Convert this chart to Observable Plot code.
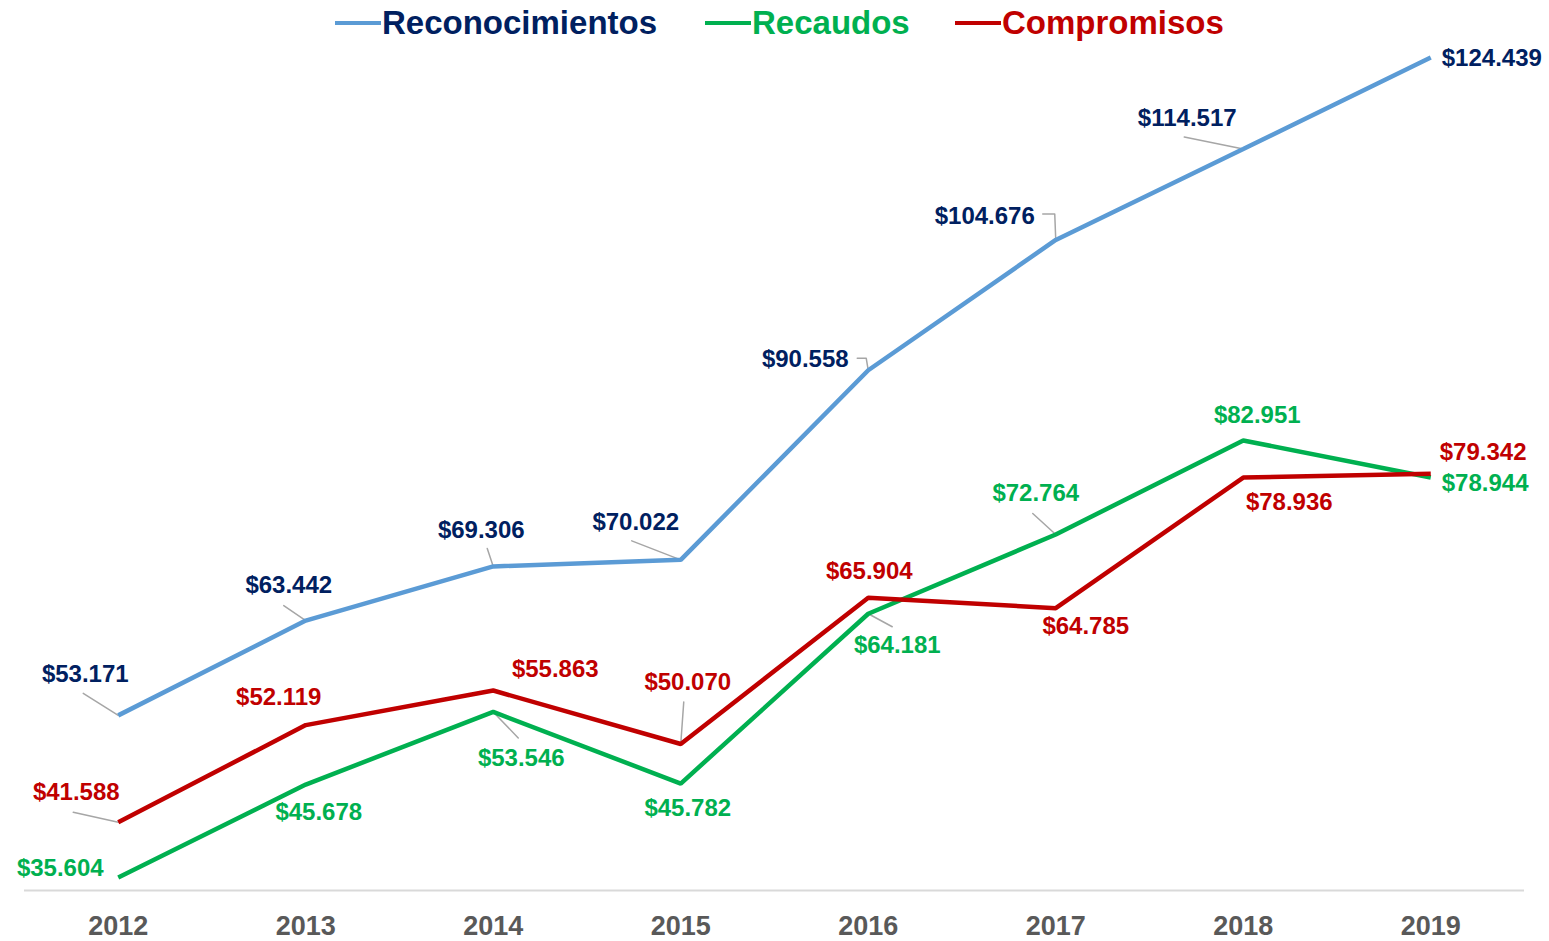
<!DOCTYPE html>
<html>
<head>
<meta charset="utf-8">
<script src="https://cdn.jsdelivr.net/npm/d3@7"></script>
<script src="https://cdn.jsdelivr.net/npm/@observablehq/plot@0.6"></script>
<style>
  html, body { margin: 0; padding: 0; background: #fff; }
  body { width: 1549px; height: 941px; overflow: hidden; font-family: "Liberation Sans", Arial, sans-serif; }
  #legend { height: 46px; position: relative; }
  .item { position: absolute; top: 0; height: 46px; display: flex; align-items: center; font-weight: bold; font-size: 33px; }
  .sw { display: inline-block; width: 46px; height: 4px; margin-right: 1px; }
</style>
</head>
<body>
<div id="legend"></div>
<div id="chart"></div>
<script>
// ---- data ----
const years = [2012, 2013, 2014, 2015, 2016, 2017, 2018, 2019];
const reconocimientos = [53.171, 63.442, 69.306, 70.022, 90.558, 104.676, 114.517, 124.439];
const recaudos = [35.604, 45.678, 53.546, 45.782, 64.181, 72.764, 82.951, 78.944];
const compromisos = [41.588, 52.119, 55.863, 50.070, 65.904, 64.785, 78.936, 79.342];
const seriesNames = ["Reconocimientos", "Recaudos", "Compromisos"];

// ---- styling / placement (not data) ----
const lineColors = {Reconocimientos: "#5B9BD5", Recaudos: "#00B050", Compromisos: "#C00000"};
const textColors = {Reconocimientos: "#002060", Recaudos: "#00B050", Compromisos: "#C00000"};
const legendLeft = {Reconocimientos: 335, Recaudos: 705, Compromisos: 955};
// label offsets in pixels relative to the point [dx, dy, anchor]
const labelOffsets = {
  Reconocimientos: [[-33,-41],[-17,-35],[-12,-36],[-45,-38],[-63,-11],[-71,-24],[-56,-31],[11,1,"start"]],
  Recaudos: [[-58,-9],[13,28],[28,46],[7,25],[29,32],[-20,-41],[14,-25],[11,6,"start"]],
  Compromisos: [[-42,-30],[-27,-28],[62,-21],[7,-62],[1,-27],[30,18],[46,25],[9,-21,"start"]]
};
// leader lines: [series, yearIndex, list of pixel offsets ending at the point]
const leaders = [
  ["Reconocimientos", 0, [[-35,-22],[0,0]]],
  ["Reconocimientos", 1, [[-22,-15],[0,0]]],
  ["Reconocimientos", 2, [[-6,-18],[0,0]]],
  ["Reconocimientos", 3, [[-49,-19],[0,0]]],
  ["Reconocimientos", 4, [[-11,-12],[-2,-12],[0,0]]],
  ["Reconocimientos", 5, [[-13,-26],[-1,-26],[0,0]]],
  ["Reconocimientos", 6, [[-59,-12],[0,0]]],
  ["Compromisos", 0, [[-45,-10],[0,0]]],
  ["Compromisos", 3, [[3,-42],[0,0]]],
  ["Recaudos", 2, [[25,26],[0,0]]],
  ["Recaudos", 4, [[24,13],[0,0]]],
  ["Recaudos", 5, [[-23,-21],[0,0]]]
];

const values = {Reconocimientos: reconocimientos, Recaudos: recaudos, Compromisos: compromisos};
const rows = seriesNames.flatMap(s => years.map((yr, i) => ({series: s, year: yr, value: values[s][i], i})));

// legend
const legend = document.getElementById("legend");
for (const s of seriesNames) {
  const el = document.createElement("div");
  el.className = "item";
  el.style.left = legendLeft[s] + "px";
  el.style.color = textColors[s];
  el.innerHTML = `<span class="sw" style="background:${lineColors[s]}"></span>${s}`;
  legend.appendChild(el);
}

const W = 1549, H = 895, mL = 24, mR = 25, mT = 11, mB = 51;
const yMin = 34.2, yMax = 124.439;
const pxPerYear = (W - mL - mR) / 8;
const pxPerUnit = (H - mT - mB) / (yMax - yMin);

const leaderPts = leaders.flatMap(([s, i, pts], k) => pts.map(([dx, dy]) => ({
  k, x: years[i] + dx / pxPerYear, y: values[s][i] - dy / pxPerUnit
})));

const fmt = v => "$" + v.toFixed(3);

const labelMarks = rows.map(d => {
  const o = labelOffsets[d.series][d.i];
  return Plot.text([d], {
    x: "year", y: "value", text: r => fmt(r.value),
    dx: o[0], dy: o[1], textAnchor: o[2] || "middle",
    fill: textColors[d.series], fontSize: 24, fontWeight: "bold"
  });
});

const chart = Plot.plot({
  width: W, height: H,
  marginLeft: mL, marginRight: mR, marginTop: mT, marginBottom: mB,
  style: {fontFamily: "'Liberation Sans', Arial, sans-serif", color: "#595959", background: "#fff"},
  x: {type: "linear", domain: [2011.5, 2019.5]},
  y: {domain: [yMin, yMax], axis: null},
  marks: [
    Plot.ruleY([yMin], {stroke: "#D9D9D9", strokeWidth: 2}),
    Plot.axisX({ticks: years, tickFormat: d => String(d), tickSize: 0, tickPadding: 25,
      fontSize: 27, fontWeight: "bold", label: null}),
    Plot.line(leaderPts, {x: "x", y: "y", z: "k", stroke: "#A6A6A6", strokeWidth: 1.5}),
    Plot.line(rows, {x: "year", y: "value", z: "series", stroke: d => lineColors[d.series],
      strokeWidth: 4.5, strokeLinejoin: "miter", strokeLinecap: "butt"}),
    ...labelMarks
  ]
});
document.getElementById("chart").appendChild(chart);
</script>
</body>
</html>
